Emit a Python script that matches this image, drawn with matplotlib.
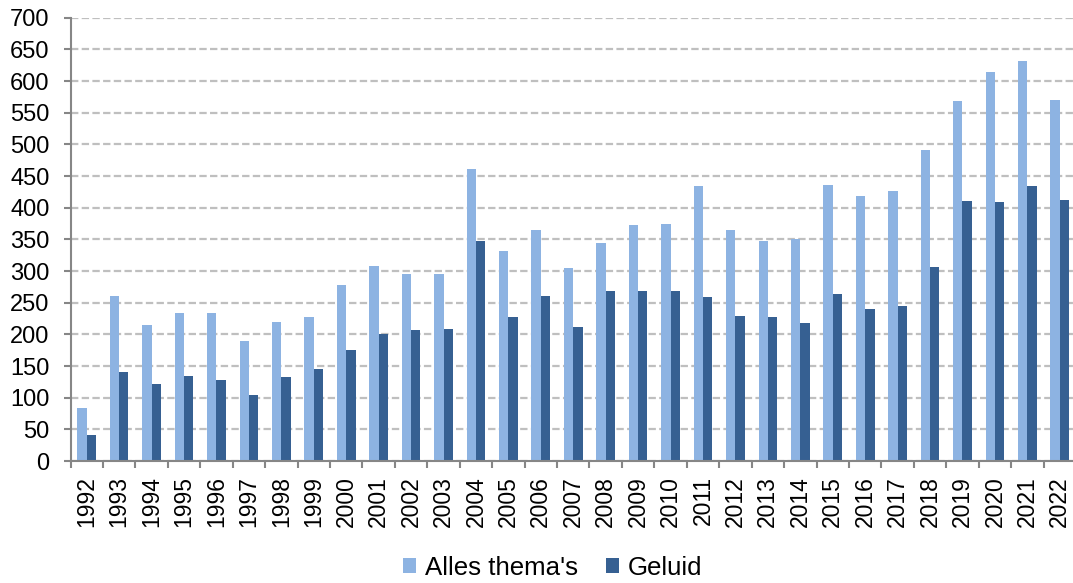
import matplotlib
matplotlib.use("Agg")
import matplotlib.pyplot as plt
import numpy as np

years = [str(y) for y in range(1992, 2023)]
alles = [83, 261, 215, 234, 234, 189, 220, 228, 278, 308, 295, 296, 461, 332, 365,
         305, 344, 372, 374, 435, 364, 347, 350, 436, 418, 427, 491, 568, 615, 631, 570]
geluid = [41, 141, 122, 134, 128, 105, 132, 146, 176, 201, 207, 208, 347, 228, 260,
          211, 268, 269, 268, 259, 229, 227, 218, 264, 240, 244, 307, 410, 409, 435, 412]
series_names = ["Alles thema's", "Geluid"]
yticks = list(range(0, 701, 50))

plt.rcParams['font.family'] = ['Liberation Sans', 'DejaVu Sans']
plt.rcParams['lines.scale_dashes'] = False

fig = plt.figure(figsize=(10.73, 5.83), dpi=100)
ax = fig.add_axes([70.5/1073, (583-461)/583, (1076-70.5)/1073, (461-17.7)/583])

x = np.arange(len(years))
w = 0.288
ax.bar(x - w/2, alles, width=w, color='#8DB3E2', label=series_names[0], zorder=3)
ax.bar(x + w/2, geluid, width=w, color='#366092', label=series_names[1], zorder=3)

ax.set_xlim(-0.5, len(years) - 0.5)
ax.set_ylim(0, 700)
ax.set_yticks(yticks)
ax.set_yticklabels([str(v) for v in yticks], fontsize=17)

ax.set_xticks(x - 0.5, minor=False)
ax.set_xticklabels([])
ax.set_xticks(x, minor=True)
ax.set_xticklabels(years, minor=True, rotation=90, fontsize=16.5)
ax.tick_params(axis='x', which='major', length=5, width=1.5, color='#868686', direction='out')
ax.tick_params(axis='x', which='minor', length=0, pad=11)
ax.tick_params(axis='y', length=5, width=1.5, color='#868686', direction='out', pad=10)

for s in ['top', 'right']:
    ax.spines[s].set_visible(False)
for s in ['left', 'bottom']:
    ax.spines[s].set_color('#868686')
    ax.spines[s].set_linewidth(1.5)
    ax.spines[s].set_zorder(4)

ax.yaxis.grid(True, color='#BFBFBF', linewidth=1.6, linestyle=(0, (5.3, 2.4)), zorder=0)
ax.set_axisbelow(True)

leg = fig.legend(loc='center', bbox_to_anchor=(553/1073, 1 - 568/583), ncol=2, frameon=False,
                 fontsize=18.6, handlelength=0.5, handleheight=0.5, handletextpad=0.35,
                 columnspacing=1.08, borderpad=0, borderaxespad=0)

fig.savefig('out.png', dpi=100)
